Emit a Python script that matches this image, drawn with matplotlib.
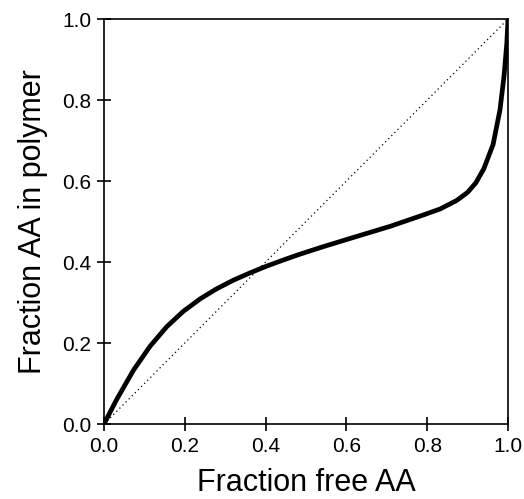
import numpy as np
import matplotlib
matplotlib.use("Agg")
import matplotlib.pyplot as plt

plt.rcParams['font.family'] = ['Liberation Sans', 'DejaVu Sans']

# composition curve: fraction of AA in free monomer pool vs. in polymer
frac_free = [0.0, 0.031, 0.073, 0.114, 0.155, 0.196, 0.238, 0.279, 0.32,
             0.361, 0.403, 0.444, 0.481, 0.543, 0.625, 0.708, 0.79, 0.832,
             0.873, 0.90, 0.92, 0.94, 0.963, 0.98, 0.99, 0.997, 1.0]
frac_polymer = [0.0, 0.06, 0.133, 0.192, 0.240, 0.278, 0.309, 0.334, 0.355,
                0.373, 0.39, 0.405, 0.418, 0.438, 0.463, 0.488, 0.516, 0.531,
                0.552, 0.572, 0.595, 0.63, 0.69, 0.775, 0.858, 0.94, 1.0]
ticks = [0.0, 0.2, 0.4, 0.6, 0.8, 1.0]

fig = plt.figure(figsize=(5.24, 4.99), dpi=100)
ax = fig.add_axes([0.1985, 0.1503, 0.771, 0.8116])

ax.plot([0, 1], [0, 1], color='black', lw=0.9, ls=(0, (1, 2.5)))
ax.plot(frac_free, frac_polymer, color='black', lw=3.4,
        solid_capstyle='round', solid_joinstyle='round')

ax.set_xlim(0, 1)
ax.set_ylim(0, 1)
ax.set_xticks(ticks)
ax.set_yticks(ticks)
ax.set_xticklabels([f"{t:.1f}" for t in ticks])
ax.set_yticklabels([f"{t:.1f}" for t in ticks])
ax.tick_params(direction='inout', length=10, width=1.2, labelsize=15, pad=4)
for s in ax.spines.values():
    s.set_linewidth(1.2)

ax.set_xlabel("Fraction free AA", fontsize=22, labelpad=9)
ax.set_ylabel("Fraction AA in polymer", fontsize=22, labelpad=10)

fig.savefig("out.png", dpi=100)
